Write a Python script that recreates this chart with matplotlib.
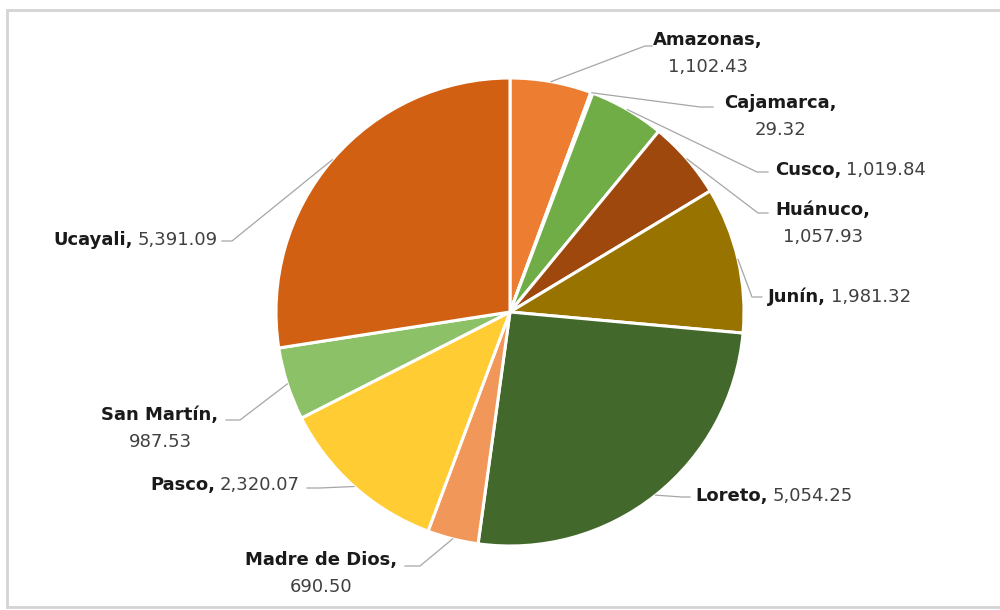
import numpy as np
import matplotlib.pyplot as plt

regions = ['Amazonas', 'Cajamarca', 'Cusco', 'Huánuco', 'Junín', 'Loreto',
           'Madre de Dios', 'Pasco', 'San Martín', 'Ucayali']
values = [1102.43, 29.32, 1019.84, 1057.93, 1981.32, 5054.25,
          690.50, 2320.07, 987.53, 5391.09]
colors = ['#ED7D31', '#FFC000', '#70AD47', '#9E480E', '#997300', '#43682B',
          '#F1975A', '#FFCD33', '#8CC168', '#D26012']

W, H = 1000, 610
fig = plt.figure(figsize=(W / 100, H / 100), dpi=100)
ax = fig.add_axes([0, 0, 1, 1])

cx, cy, r = 510, H - 312, 234
wedges, _ = ax.pie(values, colors=colors, startangle=90, counterclock=False,
                   center=(cx, cy), radius=r,
                   wedgeprops=dict(edgecolor='white', linewidth=2.2))
ax.set_xlim(0, W)
ax.set_ylim(0, H)
ax.set_aspect('equal')
ax.axis('off')

# chart-area border: top, left and bottom edges only
ax.plot([W + 5, 7, 7, W + 5], [H - 10, H - 10, H - 607, H - 607],
        color='#D4D4D4', lw=2, clip_on=False, solid_joinstyle='miter')

# label placement (pixel coords, y measured from top):
# 'c' = two centered lines, 'l' = one line starting at x, 'r' = one line ending at x
labels = {
    'Amazonas':      ('c', 708, 40, (645, 46), (652, 46)),
    'Cajamarca':     ('c', 780, 103, (700, 107), (713, 107)),
    'Cusco':         ('l', 775, 170, (757, 172), (768, 172)),
    'Huánuco':       ('c', 823, 210, (758, 213), (768, 213)),
    'Junín':         ('l', 768, 297, (752, 297), (762, 297)),
    'Loreto':        ('l', 695, 496, (682, 497), (690, 497)),
    'Madre de Dios': ('c', 321, 560, (420, 566), (405, 566)),
    'Pasco':         ('r', 300, 485, (320, 488), (307, 488)),
    'San Martín':    ('c', 160, 415, (240, 420), (226, 420)),
    'Ucayali':       ('r', 218, 240, (232, 241), (222, 241)),
}

fs = 13
name_kw = dict(fontsize=fs, fontweight='bold', color='#1A1A1A', va='center')
val_kw = dict(fontsize=fs, color='#404040', va='center')
renderer = fig.canvas.get_renderer()

for w, name, v in zip(wedges, regions, values):
    mode, x, y, bend, end = labels[name]
    mid = np.deg2rad((w.theta1 + w.theta2) / 2)
    sx, sy = cx + r * np.cos(mid), cy + r * np.sin(mid)
    ax.plot([sx, bend[0], end[0]], [sy, H - bend[1], H - end[1]],
            color='#A6A6A6', lw=0.9, zorder=1)
    val = f'{v:,.2f}'
    if mode == 'c':
        ax.text(x, H - y, name + ',', ha='center', **name_kw)
        ax.text(x, H - y - 27, val, ha='center', **val_kw)
    elif mode == 'l':
        t = ax.text(x, H - y, name + ',', ha='left', **name_kw)
        bb = t.get_window_extent(renderer)
        ax.text(bb.x1 + 5, H - y, val, ha='left', **val_kw)
    else:
        t = ax.text(x, H - y, val, ha='right', **val_kw)
        bb = t.get_window_extent(renderer)
        ax.text(bb.x0 - 5, H - y, name + ',', ha='right', **name_kw)

fig.savefig('out.png', dpi=100, facecolor='white')
